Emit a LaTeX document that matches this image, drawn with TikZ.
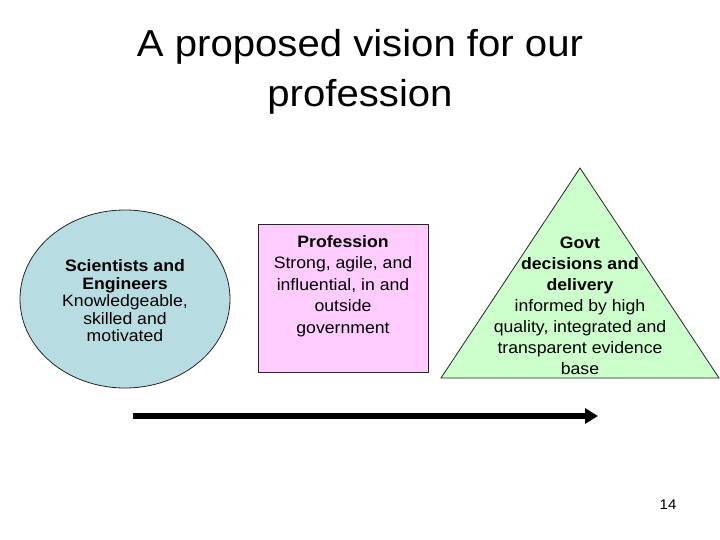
\documentclass[tikz,border=0pt]{standalone}
\usepackage{fontspec}
\setmainfont{Liberation Sans}[FakeStretch=1.07]
\usetikzlibrary{shapes.geometric,arrows.meta}
\definecolor{cblue}{RGB}{183,221,226}
\definecolor{cpink}{RGB}{255,204,255}
\definecolor{cgreen}{RGB}{204,255,204}
\begin{document}
\begin{tikzpicture}[x=1pt,y=-1pt,
  body/.style={align=center,inner sep=0pt,font=\fontsize{16.5}{17.5}\selectfont},
  outline/.style={draw=black!85,line width=0.8pt}]
\useasboundingbox (0,0) rectangle (720,540);
\fill[white] (0,0) rectangle (720,540);
% title
\node[align=center,inner sep=0pt,font=\fontsize{37.5}{50}\selectfont,anchor=base] (title) at (360,107)
  {A proposed vision for our\\profession};
% circle
\node[ellipse,outline,fill=cblue,minimum width=210,minimum height=178,inner sep=0pt] (circ) at (125,299) {};
\node[body] (ctext) at (125,301) {\textbf{Scientists and}\\\textbf{Engineers}\\Knowledgeable,\\skilled and\\motivated};
% rectangle
\node[rectangle,outline,fill=cpink,minimum width=170,minimum height=148,inner sep=0pt] (rect) at (343,298) {};
\node[body,font=\fontsize{16.5}{21.5}\selectfont] (rtext) at (343,286) {\textbf{Profession}\\Strong, agile, and\\influential, in and\\outside\\government};
% triangle
\coordinate (tapex) at (580,168);
\coordinate (tleft) at (441,378);
\coordinate (tright) at (719,378);
\draw[outline,fill=cgreen] (tapex) -- (tright) -- (tleft) -- cycle;
\node[body,font=\fontsize{16.5}{21}\selectfont] (ttext) at (580,306) {\textbf{Govt}\\\textbf{decisions and}\\\textbf{delivery}\\informed by high\\quality, integrated and\\transparent evidence\\base};
% arrow
\coordinate (astart) at (133,416);
\coordinate (aend) at (598,416);
\draw[line width=5.5pt,-{Triangle[length=13pt,width=15pt]}] (astart) -- (aend);
% page number
\node[inner sep=0pt,font=\fontsize{14}{16}\selectfont,anchor=base] (pnum) at (668,509) {14};
\end{tikzpicture}
\end{document}
